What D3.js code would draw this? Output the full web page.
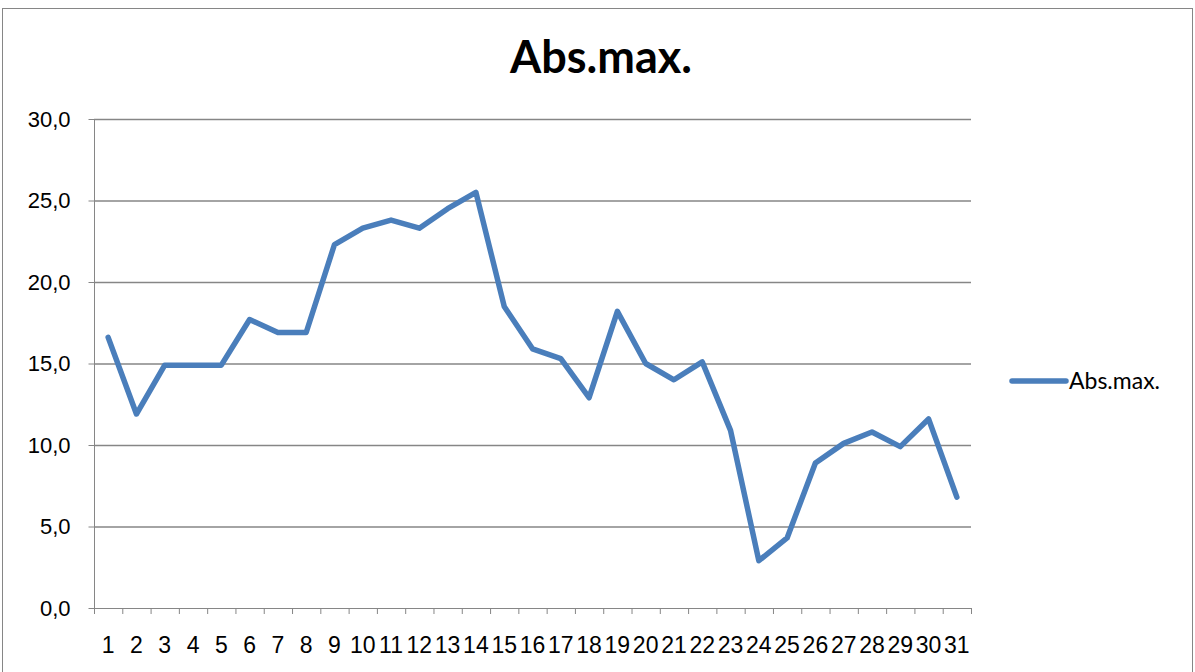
<!DOCTYPE html>
<html>
<head>
<meta charset="utf-8">
<script src="https://cdn.jsdelivr.net/npm/d3@7"></script>
<style>
  body { margin: 0; background: #fff; }
  svg { font-family: Lato, "Open Sans", sans-serif; }
</style>
</head>
<body>
<div id="chart"></div>
<script>
const days = d3.range(1, 32).map(String);
const absMax = [16.6, 11.9, 14.9, 14.9, 14.9, 17.7, 16.9, 16.9, 22.3, 23.3,
  23.8, 23.3, 24.5, 25.5, 18.5, 15.9, 15.3, 12.9, 18.2, 15.0,
  14.0, 15.1, 10.9, 2.9, 4.3, 8.9, 10.1, 10.8, 9.9, 11.6, 6.8];
const yTicks = [0, 5, 10, 15, 20, 25, 30];
const seriesName = "Abs.max.";

const width = 1195, height = 672;
const margin = { top: 119, right: 224, bottom: 64, left: 94 };
const innerW = width - margin.left - margin.right;
const innerH = height - margin.top - margin.bottom;

const svg = d3.select("#chart").append("svg")
  .attr("width", width)
  .attr("height", height);

svg.append("rect")
  .attr("x", 2.5).attr("y", 8.5)
  .attr("width", 1190).attr("height", 670)
  .attr("fill", "none").attr("stroke", "#868686");

svg.append("text")
  .attr("x", 601).attr("y", 73)
  .attr("text-anchor", "middle")
  .style("font-size", "45px").style("font-weight", "bold")
  .text(seriesName);

const g = svg.append("g").attr("transform", `translate(${margin.left},${margin.top})`);

const x = d3.scaleBand().domain(days).range([0, innerW]);
const y = d3.scaleLinear().domain([0, 30]).range([innerH, 0]);

// gridlines
g.append("g")
  .selectAll("line")
  .data(yTicks.slice(1))
  .join("line")
  .attr("x1", 0).attr("x2", innerW)
  .attr("y1", d => y(d) + 0.5).attr("y2", d => y(d) + 0.5)
  .attr("stroke", "#868686").attr("stroke-width", 1.3);

const yAxis = g.append("g")
  .attr("transform", "translate(0.5,0)")
  .call(d3.axisLeft(y).tickValues(yTicks).tickSize(6).tickPadding(18)
    .tickFormat(d => d3.format(".1f")(d).replace(".", ",")));
yAxis.select(".domain").attr("stroke", "#868686").attr("d", `M0,0V${innerH}`);
yAxis.selectAll(".tick line").attr("stroke", "#868686");
yAxis.selectAll("text").style("font-size", "22px").attr("fill", "#000");

const xAxis = g.append("g")
  .attr("transform", `translate(0,${innerH + 0.5})`)
  .call(d3.axisBottom(x).tickSize(0).tickPadding(28));
xAxis.select(".domain").attr("stroke", "#868686").attr("d", `M0,0H${innerW}`);
xAxis.selectAll("text").style("font-size", "23px").attr("fill", "#000");

// category boundary ticks
g.append("g")
  .selectAll("line")
  .data(days.concat(["end"]))
  .join("line")
  .attr("x1", (d, i) => i * x.step() + 0.5)
  .attr("x2", (d, i) => i * x.step() + 0.5)
  .attr("y1", innerH).attr("y2", innerH + 6)
  .attr("stroke", "#868686");

const line = d3.line()
  .x((d, i) => x(days[i]) + x.bandwidth() / 2)
  .y(d => y(d));

g.append("path")
  .datum(absMax)
  .attr("d", line)
  .attr("fill", "none")
  .attr("stroke", "#4a7ebb")
  .attr("stroke-width", 5.5)
  .attr("stroke-linejoin", "round")
  .attr("stroke-linecap", "round");

// legend
const legend = svg.append("g").attr("transform", "translate(1012,381)");
legend.append("line")
  .attr("x1", 0).attr("x2", 54)
  .attr("stroke", "#4a7ebb").attr("stroke-width", 5.5)
  .attr("stroke-linecap", "round");
legend.append("text")
  .attr("x", 57).attr("y", 8)
  .style("font-size", "23px")
  .text(seriesName);
</script>
</body>
</html>
